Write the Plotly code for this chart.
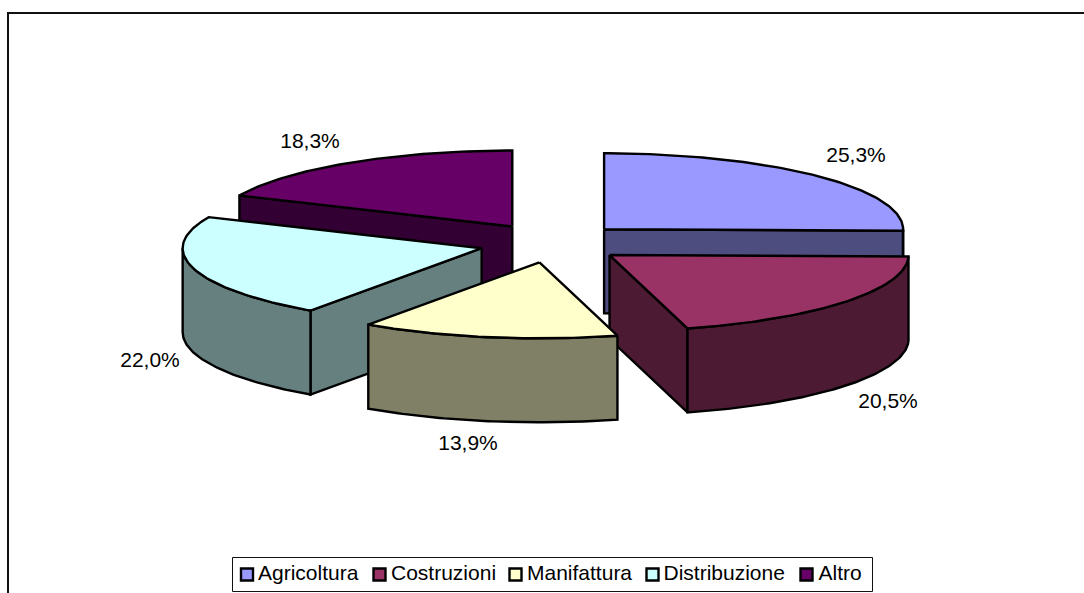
import math
import plotly.graph_objects as go

categories = ["Agricoltura", "Costruzioni", "Manifattura", "Distribuzione", "Altro"]
values = [25.3, 20.5, 13.9, 22.0, 18.3]
top_colors = ["#9999FF", "#993366", "#FFFFCC", "#CCFFFF", "#660066"]
side_colors = ["#4D4D80", "#4D1A33", "#808066", "#668080", "#330033"]

# Layout of the drawing, in page pixels
CX, CY = 552.0, 243.0
RX, RY, DEPTH = 299.0, 76.0, 84.0
EX, EY = 73.0, 19.6
PAINT_ORDER = [4, 0, 3, 1, 2]
LABEL_XY = [(856, 157), (888, 403), (468, 445), (150, 362), (310, 143)]
LEG_ICON_X = [247, 379.5, 515.5, 652.5, 806.5]
LEG_TEXT_X = [258, 391, 527, 663.5, 818.5]
LEG_Y = 575
FONT = "Liberation Sans, Arial, sans-serif"
SIZE = 21

fig = go.Figure()
total = sum(values)
starts, ends = [], []
acc = 0.0
for v in values:
    starts.append(acc / total * 2 * math.pi)
    acc += v
    ends.append(acc / total * 2 * math.pi)


def arc(ax, ay, a0, a1, dz=0.0):
    n = max(2, int(abs(a1 - a0) * 60))
    xs, ys = [], []
    for i in range(n + 1):
        a = a0 + (a1 - a0) * i / n
        xs.append(ax + RX * math.sin(a))
        ys.append(ay - RY * math.cos(a) + dz)
    return xs, ys


def face(xs, ys, color, name):
    fig.add_trace(go.Scatter(
        x=xs + xs[:1], y=ys + ys[:1], mode="lines", fill="toself",
        fillcolor=color, line=dict(color="black", width=2.4),
        name=name, showlegend=False, hoverinfo="name",
    ))


for i in PAINT_ORDER:
    a0, a1 = starts[i], ends[i]
    mid = (a0 + a1) / 2
    ax = CX + EX * math.sin(mid)
    ay = CY - EY * math.cos(mid)
    # radial side faces that look towards the viewer
    for ang, visible in ((a0, math.sin(a0) < -1e-9), (a1, math.sin(a1) > 1e-9)):
        if visible:
            ex = ax + RX * math.sin(ang)
            ey = ay - RY * math.cos(ang)
            face([ax, ex, ex, ax], [ay, ey, ey + DEPTH, ay + DEPTH], side_colors[i], categories[i])
    # outer rim, only the front half of the ellipse shows
    b0, b1 = max(a0, math.pi / 2), min(a1, 3 * math.pi / 2)
    if b1 > b0:
        tx, ty = arc(ax, ay, b0, b1)
        bx, by = arc(ax, ay, b0, b1, DEPTH)
        face(tx + bx[::-1], ty + by[::-1], side_colors[i], categories[i])
    # top face
    tx, ty = arc(ax, ay, a0, a1)
    face([ax] + tx, [ay] + ty, top_colors[i], categories[i])

# Data labels
fig.add_trace(go.Scatter(
    x=[p[0] for p in LABEL_XY], y=[p[1] for p in LABEL_XY], mode="text",
    text=[f"{v:.1f}%".replace(".", ",") for v in values],
    textposition="middle center",
    textfont=dict(family=FONT, size=SIZE, color="black"),
    showlegend=False, hoverinfo="skip",
))

# Legend
fig.add_trace(go.Scatter(
    x=LEG_ICON_X, y=[LEG_Y - 0.5] * 5, mode="markers",
    marker=dict(symbol="square", size=12, color=top_colors, line=dict(color="black", width=2.4)),
    showlegend=False, hoverinfo="skip",
))
fig.add_trace(go.Scatter(
    x=LEG_TEXT_X, y=[LEG_Y] * 5, mode="text", text=categories,
    textposition="middle right",
    textfont=dict(family=FONT, size=SIZE, color="black"),
    showlegend=False, hoverinfo="skip",
))

fig.update_layout(
    width=1084, height=593, autosize=False,
    margin=dict(l=0, r=0, t=0, b=0),
    paper_bgcolor="white", plot_bgcolor="white",
    xaxis=dict(range=[0, 1084], visible=False, fixedrange=True),
    yaxis=dict(range=[593, 0], visible=False, fixedrange=True),
    shapes=[
        dict(type="path", path="M 8 593 L 8 13 L 1084 13", xref="x", yref="y",
             line=dict(color="#111111", width=2), layer="below"),
        dict(type="rect", x0=232.5, x1=872.5, y0=557.5, y1=591.5, xref="x", yref="y",
             line=dict(color="#111111", width=1), fillcolor="white", layer="below"),
    ],
)

fig.write_html("out.html", config={"displayModeBar": False},
               post_script="document.body.style.margin='0';document.documentElement.style.overflow='hidden';")
